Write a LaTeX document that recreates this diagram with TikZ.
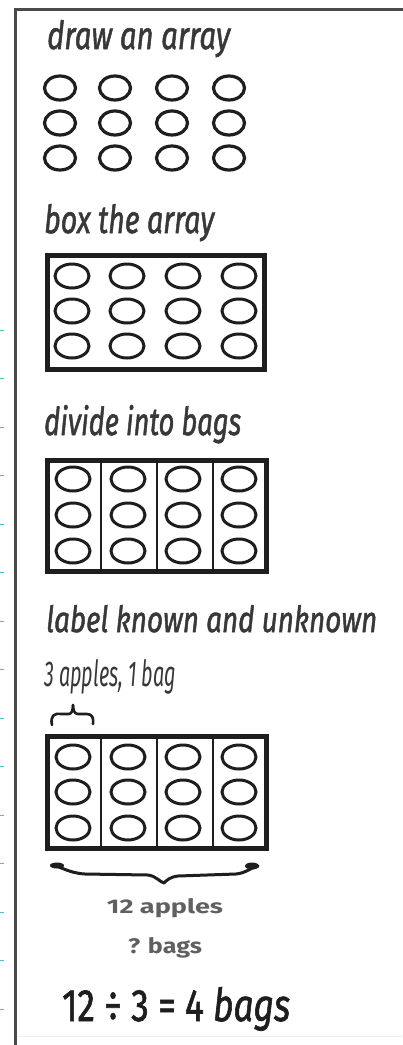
\documentclass[tikz,border=0pt]{standalone}
\usepackage{fontspec}
\usepackage{graphicx}
\setmainfont{Fira Sans}
\newfontfamily\handfont[FakeBold=1.6]{Fira Sans}
\usetikzlibrary{shapes.geometric}
\definecolor{ink}{HTML}{1E1E1E}
\definecolor{pencil}{HTML}{383838}
\definecolor{soft}{HTML}{606060}
\definecolor{frame}{HTML}{4A4A4A}
\definecolor{tickc}{HTML}{5DB6C9}
\definecolor{faint}{HTML}{EDEDED}
\newcommand\fitbox[3]{\resizebox{#1}{#2}{#3}}
\begin{document}
\begin{tikzpicture}[x=1pt,y=-1pt,
  beadA/.style={ellipse,draw=ink,line width=3.2pt,inner sep=0pt,minimum width=31pt,minimum height=24pt},
  beadB/.style={ellipse,draw=ink,line width=3pt,inner sep=0pt,minimum width=34pt,minimum height=24pt},
  lbl/.style={inner sep=0pt,anchor=base west,text=pencil,font=\handfont},
  clbl/.style={inner sep=0pt,anchor=base,text=soft},
  boxline/.style={draw=ink,line width=5pt},
  bagline/.style={draw=ink,line width=2.5pt},
  braceline/.style={draw=ink,line cap=round,line join=round}]
\useasboundingbox (0,0) rectangle (402,1045);
\fill[white] (0,0) rectangle (402,1045);
% frame
\draw[frame,line width=3pt] (15,1046) -- (15,9) -- (403,9);
\draw[faint,line width=1pt] (17,1036) -- (402,1036);
\foreach \k in {0,...,14} \draw[tickc,line width=1pt] (0,330+48.5*\k) -- (3.5,330+48.5*\k);
% titles
\node[lbl] (t1) at (47,49) {\fitbox{183pt}{29pt}{\itshape draw an array}};
\node[lbl] (t2) at (44,233) {\fitbox{170pt}{29pt}{\itshape box the array}};
\node[lbl] (t3) at (44,435) {\fitbox{197pt}{30pt}{\itshape divide into bags}};
\node[lbl] (t4) at (46,632) {\fitbox{331pt}{27pt}{\itshape label known and unknown}};
\node[lbl,font=\normalfont] (t5) at (44,686) {\fitbox{132pt}{27pt}{\itshape 3 apples, 1 bag}};
\node[clbl] (t6) at (165,913) {\fitbox{116pt}{15pt}{\bfseries 12 apples}};
\node[clbl] (t7) at (165,953) {\fitbox{74pt}{16pt}{\bfseries ? bags}};
\node[lbl,text=ink] (t8) at (62,1021) {\fitbox{228pt}{34pt}{12 ÷ 3 = 4 \textit{bags}}};
% array 1
\foreach \c/\x in {1/60,2/115,3/172,4/229}
  \foreach \r/\y in {1/88,2/123,3/158}
    \node[beadA] (a\r\c) at (\x,\y) {};
% array 2 (boxed)
\draw[boxline] (47.5,255.5) rectangle (264.5,369.5);
\foreach \c/\x in {1/72,2/127,3/183,4/239}
  \foreach \r/\y in {1/276,2/311,3/346}
    \node[beadB] (b\r\c) at (\x,\y) {};
% array 3 (bags)
\draw[boxline] (47.5,460.5) rectangle (266.5,571.5);
\foreach \x in {101,157,213} \draw[bagline] (\x,460.5) -- (\x,571.5);
\foreach \c/\x in {1/73,2/128,3/183,4/239}
  \foreach \r/\y in {1/479,2/515,3/551}
    \node[beadB] (c\r\c) at (\x,\y) {};
% array 4 (labelled)
\draw[boxline] (47.5,736.5) rectangle (266.5,848.5);
\foreach \x in {101,157,213} \draw[bagline] (\x,736.5) -- (\x,848.5);
\foreach \c/\x in {1/73,2/128,3/183,4/239}
  \foreach \r/\y in {1/757,2/792,3/828}
    \node[beadB] (d\r\c) at (\x,\y) {};
% small brace over one bag
\draw[braceline,line width=2.6pt] (52,725) .. controls (50,716) and (54,713) .. (61,714) -- (69,714) .. controls (71,714) and (73,711) .. (73,705);
\draw[braceline,line width=2.6pt] (73,705) .. controls (73,711) and (75,714) .. (78,714) -- (87,714) .. controls (92,714) and (94,718) .. (93,724);
% large brace under all bags
\draw[braceline,line width=3pt] (52,865) .. controls (60,866) and (68,873) .. (85,874) -- (148,875) .. controls (156,876) and (160,882) .. (164,883) .. controls (167,880) and (170,877) .. (178,876) -- (236,874) .. controls (246,873) and (250,868) .. (258,866);
\fill[ink] (57,865.5) ellipse (7 and 3);
\fill[ink] (252,866) ellipse (7 and 3.5);
\end{tikzpicture}
\end{document}
